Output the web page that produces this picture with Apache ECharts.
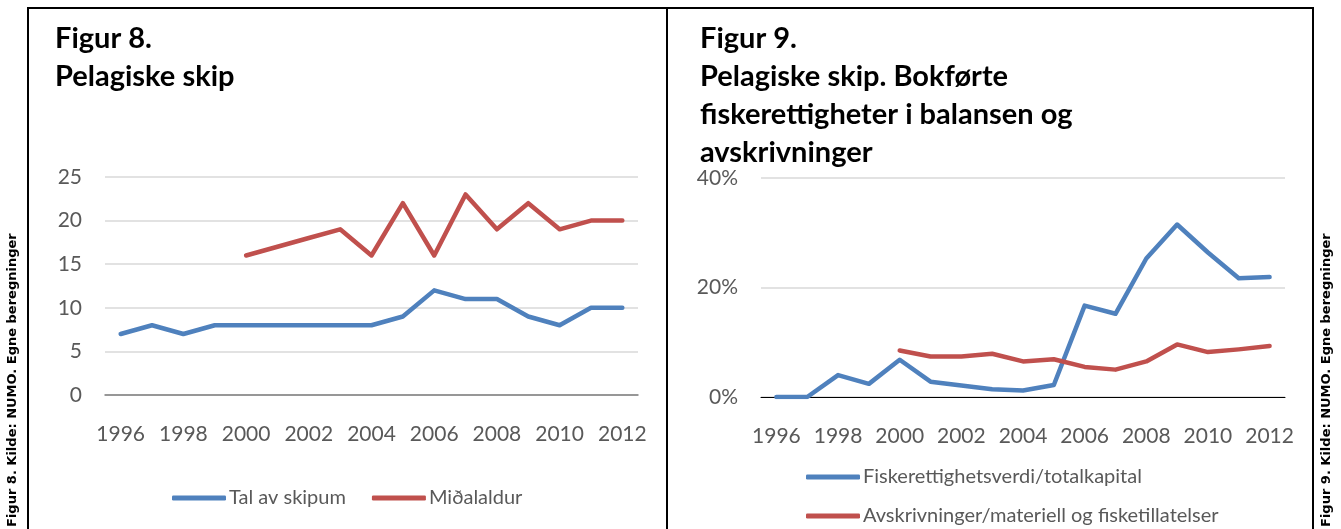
<!DOCTYPE html>
<html><head><meta charset="utf-8">
<script src="https://cdn.jsdelivr.net/npm/echarts@6/dist/echarts.min.js"></script>
<style>html,body{margin:0;padding:0;background:#fff}#c{width:1341px;height:529px}</style>
</head><body><div id="c"></div>
<script>
// ---- data ----
const years = ['1996','1997','1998','1999','2000','2001','2002','2003','2004','2005','2006','2007','2008','2009','2010','2011','2012'];
const talAvSkipum = [7,8,7,8,8,8,8,8,8,9,12,11,11,9,8,10,10];
const midalaldur = [null,null,null,null,16,17,18,19,16,22,16,23,19,22,19,20,20];
const fiskerettigheter = [0,0,4.0,2.4,6.8,2.8,2.1,1.4,1.2,2.2,16.7,15.2,25.3,31.5,26.4,21.7,21.9];
const avskrivninger = [null,null,null,null,8.5,7.4,7.4,7.9,6.5,6.9,5.5,5.0,6.5,9.6,8.2,8.7,9.3];
const leftTicks = [0,5,10,15,20,25];
const rightTicks = [0,20,40];
const seriesNames = ['Tal av skipum','Miðalaldur','Fiskerettighetsverdi/totalkapital','Avskrivninger/materiell og fisketillatelser'];
const titleLeft = 'Figur 8.\nPelagiske skip';
const titleRight = 'Figur 9.\nPelagiske skip. Bokførte\nfiskerettigheter i balansen og\navskrivninger';
const sourceLeft = 'Figur 8. Kilde: NUMO. Egne beregninger';
const sourceRight = 'Figur 9. Kilde: NUMO. Egne beregninger';

// ---- styles ----
const BLUE = '#4F81BD', RED = '#C0504D', GREY = '#595959';
const FONT = 'Lato, "Noto Sans", sans-serif';

const chart = echarts.init(document.getElementById('c'), null, {renderer: 'canvas'});

function xAxis(gi, lineColor, lineW) {
  return {
    type: 'category', gridIndex: gi, data: years, boundaryGap: true,
    axisTick: {show: false},
    axisLine: {show: true, lineStyle: {color: lineColor, width: lineW}},
    axisLabel: {interval: 1, color: GREY, fontFamily: FONT, fontSize: 21, margin: 29}
  };
}
function yAxis(gi, ticks, fmt) {
  return {
    type: 'value', gridIndex: gi,
    min: ticks[0], max: ticks[ticks.length - 1], interval: ticks[1] - ticks[0],
    axisLine: {show: false}, axisTick: {show: false},
    splitLine: {lineStyle: {color: '#D9D9D9', width: 1.5}},
    axisLabel: {color: GREY, fontFamily: FONT, fontSize: 21, margin: 23, formatter: fmt}
  };
}
function line(name, data, color, xi, yi) {
  return {
    name, type: 'line', data, xAxisIndex: xi, yAxisIndex: yi,
    showSymbol: false, symbol: 'none', connectNulls: false,
    lineStyle: {color, width: 4.5, cap: 'round', join: 'round'},
    itemStyle: {color}, animation: false
  };
}
const legendBase = {
  icon: 'roundRect', itemWidth: 54, itemHeight: 5, padding: 0,
  textStyle: {color: GREY, fontFamily: FONT, fontSize: 20, padding: [0,0,0,-2]},
  selectedMode: false
};
const titleStyle = {fontFamily: FONT, fontWeight: 'bold', fontSize: 29, lineHeight: 38, color: '#000'};

chart.setOption({
  animation: false,
  title: [
    {text: titleLeft, left: 55, top: 20, padding: 0, textStyle: titleStyle},
    {text: titleRight, left: 700, top: 20, padding: 0, textStyle: titleStyle}
  ],
  grid: [
    {left: 105, right: 1341 - 638, top: 177, bottom: 529 - 395},
    {left: 761, right: 1341 - 1285, top: 178, bottom: 529 - 397}
  ],
  xAxis: [xAxis(0, '#7F7F7F', 1.5), xAxis(1, '#000', 1)],
  yAxis: [yAxis(0, leftTicks, '{value}'), yAxis(1, rightTicks, '{value}%')],
  legend: [
    Object.assign({}, legendBase, {data: [seriesNames[0], seriesNames[1]], left: 172, top: 488, itemGap: 26}),
    Object.assign({}, legendBase, {data: [seriesNames[2]], left: 806, top: 467}),
    Object.assign({}, legendBase, {data: [seriesNames[3]], left: 806, top: 506})
  ],
  series: [
    line(seriesNames[0], talAvSkipum, BLUE, 0, 0),
    line(seriesNames[1], midalaldur, RED, 0, 0),
    line(seriesNames[2], fiskerettigheter, BLUE, 1, 1),
    line(seriesNames[3], avskrivninger, RED, 1, 1)
  ],
  graphic: [
    {type: 'polyline', shape: {points: [[28, 540], [28, 8], [1313, 8], [1313, 540]]}, style: {stroke: '#000', lineWidth: 2, fill: null}, silent: true},
    {type: 'line', shape: {x1: 667, y1: 8, x2: 667, y2: 540}, style: {stroke: '#000', lineWidth: 2}, silent: true},
    {type: 'text', x: 13, y: 527, rotation: Math.PI / 2, style: {text: sourceLeft, font: 'bold 13px "DejaVu Sans"', fill: '#000', textAlign: 'left', textVerticalAlign: 'middle'}, silent: true},
    {type: 'text', x: 1327, y: 527, rotation: Math.PI / 2, style: {text: sourceRight, font: 'bold 13px "DejaVu Sans"', fill: '#000', textAlign: 'left', textVerticalAlign: 'middle'}, silent: true}
  ]
});
</script>
</body></html>
